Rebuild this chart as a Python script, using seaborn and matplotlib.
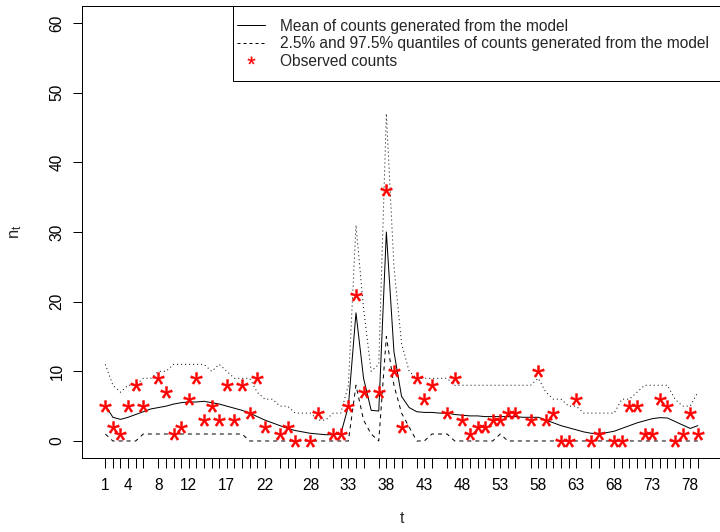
import matplotlib
matplotlib.use("Agg")
import matplotlib.pyplot as plt
import seaborn as sns
import pandas as pd
from matplotlib.textpath import TextPath
from matplotlib.font_manager import FontProperties
from matplotlib.path import Path
from matplotlib.lines import Line2D
from matplotlib.patches import Rectangle

# Model output at every time step
t_model = list(range(1, 80))
mean_counts = [5.1, 3.4, 3.1, 3.4, 3.8, 4.2, 4.6, 4.8, 5.0, 5.3,
               5.5, 5.6, 5.6, 5.7, 5.5, 5.3, 5.0, 4.7, 4.4, 4.0,
               3.5, 3.0, 2.6, 2.2, 1.8, 1.5, 1.3, 1.1, 1.0, 0.9,
               0.9, 1.0, 5.0, 18.4, 9.0, 4.4, 4.3, 30.0, 12.8, 6.4,
               4.8, 4.2, 4.1, 4.1, 4.0, 4.0, 3.8, 3.7, 3.6, 3.6,
               3.5, 3.5, 3.5, 3.5, 3.5, 3.4, 3.4, 3.4, 3.0, 2.6,
               2.2, 1.9, 1.6, 1.3, 1.1, 1.1, 1.2, 1.4, 1.8, 2.2,
               2.6, 2.9, 3.2, 3.35, 3.3, 2.8, 2.3, 1.8, 2.2]
q_low = [1, 0, 0, 0, 0, 1, 1, 1, 1, 1,
         1, 1, 1, 1, 1, 1, 1, 1, 1, 0,
         0, 0, 0, 0, 0, 0, 0, 0, 0, 0,
         0, 0, 0, 8, 3, 1, 0, 15, 8, 4,
         2, 0, 0, 1, 1, 1, 0, 0, 0, 0,
         0, 0, 1, 0, 0, 0, 0, 0, 0, 0,
         0, 0, 0, 0, 0, 0, 0, 0, 0, 0,
         0, 0, 0, 0, 0, 0, 0, 0, 0]
q_high = [11, 8, 7, 8, 8, 9, 9, 10, 10, 11,
          11, 11, 11, 11, 10, 11, 10, 9, 9, 9,
          7, 6, 6, 5, 5, 4, 4, 4, 3, 3,
          4, 4, 8, 31, 19, 10, 11, 47, 25, 14,
          10, 9, 9, 9, 9, 9, 8, 8, 8, 8,
          8, 8, 8, 8, 8, 8, 8, 9, 7, 6,
          6, 5, 5, 4, 4, 4, 4, 4, 6, 6,
          7, 8, 8, 8, 8, 6, 5, 5, 7]

# Observed counts (some time steps have no observation)
t_obs = [1, 2, 3, 4, 5, 6, 8, 9, 10, 11, 12, 13, 14, 15, 16, 17, 18, 19, 20,
         21, 22, 24, 25, 26, 28, 29, 31, 32, 33, 34, 35, 37, 38, 39, 40,
         42, 43, 44, 46, 47, 48, 49, 50, 51, 52, 53, 54, 55, 57, 58, 59,
         60, 61, 62, 63, 65, 66, 68, 69, 70, 71, 72, 73, 74, 75, 76, 77,
         78, 79]
obs_counts = [5, 2, 1, 5, 8, 5, 9, 7, 1, 2, 6, 9, 3, 5, 3, 8, 3, 8, 4,
              9, 2, 1, 2, 0, 0, 4, 1, 1, 5, 21, 7, 7, 36, 10, 2,
              9, 6, 8, 4, 9, 3, 1, 2, 2, 3, 3, 4, 4, 3, 10, 3,
              4, 0, 0, 6, 0, 1, 0, 0, 5, 5, 1, 1, 6, 5, 0, 1,
              4, 1]

x_labelled = [1, 4, 8, 12, 17, 22, 28, 33, 38, 43, 48, 53, 58, 63, 68, 73, 78]
y_ticks = [0, 10, 20, 30, 40, 50, 60]

legend_labels = ["Mean of counts generated from the model",
                 "2.5% and 97.5% quantiles of counts generated from the model",
                 "Observed counts"]

sns.set_style("ticks")
plt.rcParams["font.family"] = ["Liberation Sans", "DejaVu Sans"]
plt.rcParams["mathtext.default"] = "regular"

FS = 15.5
W, H = 720, 532
fig = plt.figure(figsize=(W / 72, H / 72), dpi=72)
L, R, T, B = 81.6, 721.5, 6.3, 457.7
ax = fig.add_axes([L / W, (H - B) / H, (R - L) / W, (B - T) / H])

model = pd.DataFrame({"t": t_model, "mean": mean_counts,
                      "low": q_low, "high": q_high})
obs = pd.DataFrame({"t": t_obs, "count": obs_counts})

sns.lineplot(data=model, x="t", y="mean", color="black", lw=1,
             errorbar=None, ax=ax)
sns.lineplot(data=model, x="t", y="low", color="black", lw=1,
             linestyle=(0, (4, 4)), errorbar=None, ax=ax)
sns.lineplot(data=model, x="t", y="high", color="black", lw=1,
             linestyle=(0, (1, 3)), errorbar=None, ax=ax)

# asterisk glyph used as the point symbol, centred on its outline
tp = TextPath((0, 0), "*", size=1, prop=FontProperties(family="Liberation Sans"))
codes = tp.codes
v = tp.vertices.copy()
drawn = codes != Path.CLOSEPOLY
v -= (v[drawn].min(axis=0) + v[drawn].max(axis=0)) / 2
v[~drawn] = 0.0
star = Path(v, codes)

sns.scatterplot(data=obs, x="t", y="count", marker=star, s=12 ** 2,
                color="red", edgecolor="red", linewidth=0.4, zorder=3, ax=ax)

ax.set_xlim(-2.12, 82.12)
ax.set_ylim(-2.4, 62.4)

ax.set_xticks(t_obs)
ax.set_xticklabels([str(t) if t in x_labelled else "" for t in t_obs])
ax.set_yticks(y_ticks)
ax.set_yticklabels([str(y) for y in y_ticks])
ax.tick_params(direction="out", length=9.5, width=1, color="black",
               labelsize=FS, labelcolor="black")
ax.tick_params(axis="x", pad=11)
ax.tick_params(axis="y", pad=7.5)
for lab in ax.get_yticklabels():
    lab.set_rotation(90)
    lab.set_va("center")
    lab.set_ha("right")

for sp in ax.spines.values():
    sp.set_visible(True)
    sp.set_color("black")
    sp.set_linewidth(1)

ax.set_xlabel("t", fontsize=FS)
ax.set_ylabel(r"$n_t$", fontsize=FS + 1)
ax.xaxis.set_label_coords(0.5, (B - 511) / (B - T))
ax.yaxis.set_label_coords((24 - L) / (R - L), 0.5)

# legend with a rectangular frame in the top right corner
lx0 = (233 - L) / (R - L)
ly0 = (B - 81) / (B - T)
ax.add_patch(Rectangle((lx0, ly0), 1 - lx0, 1 - ly0, transform=ax.transAxes,
                       facecolor="white", edgecolor="black", lw=1,
                       clip_on=False, zorder=4))
handles = [Line2D([], [], color="black", lw=1),
           Line2D([], [], color="black", lw=1, linestyle=(0, (3, 3))),
           Line2D([], [], color="red", marker=star, linestyle="none",
                  markersize=7.5, markeredgewidth=0.3)]
leg = ax.legend(handles, legend_labels, loc="upper left",
                bbox_to_anchor=(lx0, (B - 15) / (B - T)), frameon=False,
                fontsize=FS, handlelength=1.8, handletextpad=0.96,
                borderpad=0.25, labelspacing=0.15, borderaxespad=0)
leg.set_zorder(5)

fig.savefig("out.png", dpi=72)
